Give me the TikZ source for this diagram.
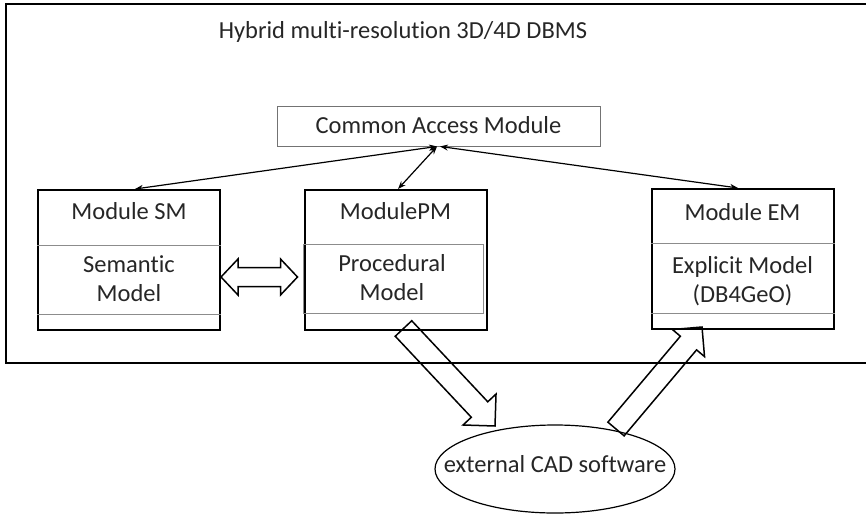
\documentclass[tikz,border=0pt]{standalone}
\usepackage{fontspec}
\setmainfont{Carlito}[Ligatures=NoCommon]
\usetikzlibrary{arrows.meta,calc,shapes.geometric}

\tikzset{
    modbox/.style={draw, line width=2pt, minimum width=182pt, minimum height=140pt, inner sep=0pt},
    divider/.style={draw=black!45, line width=0.8pt},
    lbl/.style={font=\fontsize{24.5}{29}\selectfont, text=black!85, align=center, anchor=base, inner sep=0pt},
    link/.style={line width=1.2pt, {Stealth[length=8pt,width=6pt]}-{Stealth[length=8pt,width=6pt]}},
    blockline/.style={line width=1.5pt, line join=miter},
}

% hollow block arrow: tail, tip, half shaft, half head, head length
\newcommand{\blockarrow}[5]{%
    \coordinate (hb) at ($(#2)!#5!(#1)$);
    \draw[blockline] ($(#1)!#3!90:(#2)$) -- ($(hb)!#3!90:(#2)$) -- ($(hb)!#4!90:(#2)$) -- (#2)
        -- ($(hb)!#4!-90:(#2)$) -- ($(hb)!#3!-90:(#2)$) -- ($(#1)!#3!-90:(#2)$) -- cycle;
}
% same, with a head at both ends
\newcommand{\dblockarrow}[5]{%
    \coordinate (hba) at ($(#1)!#5!(#2)$);
    \coordinate (hbb) at ($(#2)!#5!(#1)$);
    \draw[blockline] (#1) -- ($(hba)!#4!90:(#2)$) -- ($(hba)!#3!90:(#2)$) -- ($(hbb)!#3!90:(#2)$)
        -- ($(hbb)!#4!90:(#2)$) -- (#2) -- ($(hbb)!#4!-90:(#2)$) -- ($(hbb)!#3!-90:(#2)$)
        -- ($(hba)!#3!-90:(#2)$) -- ($(hba)!#4!-90:(#2)$) -- cycle;
}

\begin{document}
\begin{tikzpicture}[x=1pt, y=-1pt]
    \useasboundingbox (0,0) rectangle (866,514);

    % DBMS frame
    \draw[line width=2pt] (6,4) rectangle (870,363);
    \node[lbl] (title) at (403,38) {Hybrid multi-resolution 3D/4D DBMS};

    % Common access module
    \node[draw=black!55, line width=0.9pt, minimum width=323pt, minimum height=40pt, inner sep=0pt] (cam) at (438.5,126) {};
    \node[lbl] (camtext) at (438.5,133) {Common Access Module};

    % Modules
    \node[modbox] (sm) at (129,260) {};
    \node[modbox] (pm) at (395.5,260) {};
    \node[modbox] (em) at (742.5,259) {};

    \draw[divider] (sm.west |- 0,245) -- (sm.east |- 0,245);
    \draw[divider] (sm.west |- 0,314) -- (sm.east |- 0,314);
    \draw[divider] (pm.west |- 0,244) rectangle (483,313);
    \draw[divider] (em.west |- 0,243) -- (em.east |- 0,243);
    \draw[divider] (em.west |- 0,313) -- (em.east |- 0,313);

    % Labels
    \node[lbl] (smhead) at (129,219) {Module SM};
    \node[lbl] (smbody) at (129,301) {Semantic\\Model};
    \node[lbl] (pmhead) at (395.5,219) {ModulePM};
    \node[lbl] (pmbody) at (392,300) {Procedural\\Model};
    \node[lbl] (emhead) at (742.5,220) {Module EM};
    \node[lbl] (embody) at (742.5,302) {Explicit Model\\(DB4GeO)};

    % External software
    \node[draw, ellipse, line width=1.2pt, minimum width=240pt, minimum height=88pt, inner sep=0pt] (cad) at (555,469) {};
    \node[lbl] (cadtext) at ($(cad.center)+(0,3.7)$) {external CAD software};

    % Access links
    \draw[link] ([xshift=-1.5pt]cam.south) -- ([xshift=6pt]sm.north);
    \draw[link] ([xshift=-1.5pt]cam.south) -- ([xshift=2.5pt]pm.north);
    \draw[link] ([xshift=1.5pt]cam.south) -- ([xshift=-4.5pt]em.north);

    % Block arrows
    \coordinate (smside) at ($(sm.east)+(0,17)$);
    \coordinate (pmside) at ($(pm.west)+(-6,17)$);
    \dblockarrow{smside}{pmside}{9.5pt}{18pt}{17pt}

    \coordinate (outtail) at ($(pm.south)+(8,-2.5)$);
    \coordinate (outtip) at ($(cad.center)+(-60,-43)$);
    \blockarrow{outtail}{outtip}{11.3pt}{22.6pt}{22.6pt}

    \coordinate (intail) at ($(cad.center)+(61,-40)$);
    \coordinate (intip) at ($(em.south)+(-40.5,-3)$);
    \blockarrow{intail}{intip}{10.6pt}{21pt}{21pt}
\end{tikzpicture}
\end{document}
